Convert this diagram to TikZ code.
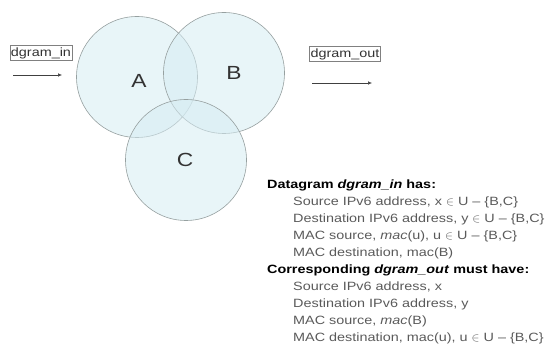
\documentclass[tikz,border=0pt]{standalone}
\usepackage{fontspec}
\setmainfont{Liberation Sans}
\newfontfamily\diagfont[FakeStretch=1.2,Ligatures=TeX]{Liberation Sans}
\usepackage{xcolor}
\usetikzlibrary{arrows.meta}

\definecolor{setfill}{RGB}{214,236,242}
\definecolor{setline}{RGB}{150,160,160}
\definecolor{factgray}{RGB}{90,90,90}

\begin{document}
\begin{tikzpicture}[x=1pt,y=-1pt,
every node/.style={font=\diagfont\fontsize{12}{17}\selectfont},
set/.style={circle,draw=setline,fill=setfill,fill opacity=0.55,draw opacity=1,minimum size=121pt,line width=0.6pt},
setlabel/.style={font=\diagfont\fontsize{19}{20}\selectfont,text=black!80},
tag/.style={draw=gray,inner xsep=1pt,inner ysep=2pt,text=black!80},
arr/.style={-{Latex[length=4pt,width=3.5pt]},line width=0.5pt,black!75}]
\useasboundingbox (0,0) rectangle (547,347);

\node[set] (A) at (137,77) {};
\node[set] (B) at (224,73) {};
\node[set] (C) at (186,160) {};
\node[setlabel] (labA) at (139,81) {A};
\node[setlabel] (labB) at (234,73) {B};
\node[setlabel] (labC) at (185,160) {C};

\node[tag] (in) at (41,53) {dgram\_in};
\coordinate (inL) at (13,75); \coordinate (inR) at (62,75);
\draw[arr] (inL)--(inR);

\node[tag] (out) at (345,54) {dgram\_out};
\coordinate (outL) at (312,83); \coordinate (outR) at (372,83);
\draw[arr] (outL)--(outR);

\node[anchor=north west,align=left,inner sep=0pt,text=factgray] (facts) at (267,180) {%
{\color{black}\bfseries Datagram \textit{dgram\_in} has:}\\
\hspace*{26pt}Source IPv6 address, x $\in$ U \textendash\ \{B,C\}\\
\hspace*{26pt}Destination IPv6 address, y $\in$ U \textendash\ \{B,C\}\\
\hspace*{26pt}MAC source, \textit{mac}(u), u $\in$ U \textendash\ \{B,C\}\\
\hspace*{26pt}MAC destination, mac(B)\\
{\color{black}\bfseries Corresponding \textit{dgram\_out} must have:}\\
\hspace*{26pt}Source IPv6 address, x\\
\hspace*{26pt}Destination IPv6 address, y\\
\hspace*{26pt}MAC source, \textit{mac}(B)\\
\hspace*{26pt}MAC destination, mac(u), u $\in$ U \textendash\ \{B,C\}};
\end{tikzpicture}
\end{document}
